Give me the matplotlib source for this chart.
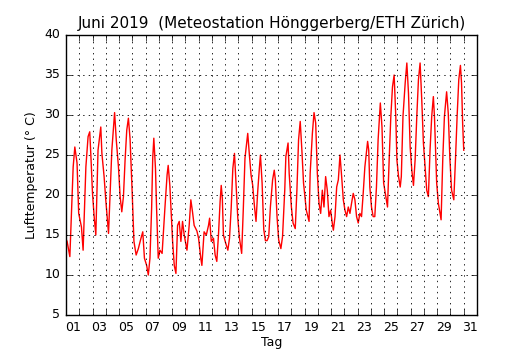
import matplotlib
matplotlib.use("Agg")
import matplotlib.pyplot as plt
from matplotlib.ticker import FixedLocator, FixedFormatter, NullFormatter

# Stunden seit 1. Juni 00:00 und Temperatur (Grad C)
hours = [0, 2, 7, 13, 16, 20, 23, 28, 31, 36, 40, 43, 45, 48, 51, 54, 58, 63, 65, 69,
         72, 77, 83, 88, 91, 95, 98, 101, 104, 107, 110, 113, 116, 120, 123, 127, 131, 135, 139, 142,
         146, 149, 152, 155, 157, 159, 162, 164, 167, 170, 174, 179, 183, 185, 188, 193, 196, 199, 202, 205,
         208, 211, 214, 219, 223, 226, 229, 232, 237, 240, 244, 246, 250, 254, 258, 260, 263, 267, 270, 273,
         276, 279, 281, 283, 285, 289, 293, 296, 299, 302, 305, 308, 311, 314, 318, 321, 324, 329, 332, 335,
         338, 341, 344, 347, 350, 352, 355, 358, 361, 364, 367, 370, 374, 377, 379, 382, 385, 389, 392, 396,
         398, 402, 404, 408, 411, 415, 418, 421, 424, 427, 430, 435, 440, 442, 446, 449, 452, 455, 458, 461,
         464, 467, 470, 473, 476, 479, 482, 484, 487, 490, 493, 496, 499, 502, 505, 508, 511, 514, 517, 520,
         523, 526, 529, 532, 535, 538, 541, 546, 548, 550, 553, 556, 559, 562, 565, 569, 572, 575, 578, 582,
         585, 588, 591, 594, 597, 599, 602, 605, 607, 610, 614, 617, 620, 623, 626, 629, 632, 635, 638, 641,
         644, 647, 650, 653, 656, 659, 662, 665, 667, 669, 671, 674, 679, 682, 685, 689, 692, 695, 698, 702,
         705, 708, 711, 714, 716, 718, 720]
temp = [14.5, 14.2, 12.3, 23.5, 26.0, 24.0, 17.7, 16.0, 13.1, 23.5, 27.3, 27.9, 25.0, 20.2, 17.3, 15.0, 25.6, 28.5, 25.2, 22.3,
        19.4, 15.2, 25.6, 30.3, 26.9, 23.5, 19.8, 17.9, 19.8, 24.4, 28.1, 29.6, 27.0, 20.0, 14.2, 12.5, 13.3, 14.4, 15.4, 12.1,
        11.2, 10.0, 12.1, 18.3, 24.6, 27.1, 23.3, 18.3, 12.1, 13.1, 12.7, 18.3, 22.5, 23.7, 21.2, 14.2, 11.2, 10.2, 16.2, 16.7,
        14.2, 16.7, 15.0, 13.1, 16.2, 19.4, 17.9, 16.2, 15.5, 14.6, 12.1, 11.2, 15.4, 15.0, 16.2, 17.1, 14.2, 14.6, 12.5, 11.7,
        15.0, 19.2, 21.2, 19.6, 15.0, 14.0, 13.1, 14.6, 18.3, 23.3, 25.2, 21.2, 17.1, 14.6, 12.7, 18.3, 24.6, 27.7, 25.0, 22.5,
        21.2, 18.7, 16.7, 20.4, 23.3, 25.0, 21.5, 15.7, 14.3, 14.3, 14.8, 18.5, 21.9, 23.1, 21.9, 17.3, 14.4, 13.3, 14.8, 20.6,
        24.8, 26.5, 22.7, 18.5, 16.5, 15.8, 20.6, 26.9, 29.2, 25.6, 21.5, 18.1, 16.7, 22.7, 27.7, 30.3, 29.0, 22.7, 19.0, 17.7,
        20.6, 18.5, 22.3, 20.6, 17.3, 18.1, 16.5, 15.6, 17.3, 21.0, 21.9, 25.0, 22.3, 19.4, 18.1, 17.3, 18.5, 17.7, 19.0, 20.2,
        19.4, 17.3, 16.5, 17.7, 17.3, 20.2, 23.5, 26.7, 25.6, 21.0, 18.5, 17.3, 17.3, 21.0, 26.9, 31.5, 28.5, 21.5, 20.2, 18.5,
        24.4, 29.8, 33.5, 35.0, 29.8, 24.4, 22.3, 21.0, 22.3, 29.8, 34.0, 36.5, 32.7, 26.0, 23.1, 21.2, 24.4, 29.8, 34.4, 36.5,
        31.9, 26.5, 23.5, 20.6, 19.8, 25.6, 29.8, 32.3, 29.8, 25.6, 21.5, 19.0, 16.9, 24.4, 29.8, 32.9, 30.2, 24.4, 20.6, 19.4,
        24.4, 29.8, 34.4, 36.2, 34.0, 29.0, 25.6]

day_labels = ["%02d" % d for d in range(1, 32, 2)]
title = "Juni 2019  (Meteostation Hönggerberg/ETH Zürich)"

plt.style.use("classic")
plt.rcParams["font.family"] = "DejaVu Sans"

fig = plt.figure(figsize=(5.3, 3.5), dpi=100, facecolor="white")
ax = fig.add_axes([0.1245, 0.1, 0.7755, 0.8])

days = [h / 24.0 for h in hours]
ax.plot(days, temp, color="red", linewidth=1.0)

ax.set_xlim(0, 31)
ax.set_ylim(5, 40)
ax.set_yticks(range(5, 41, 5))

# Tagesgrenzen als Haupt-Ticks (ohne Beschriftung), Tagesmitte beschriftet
ax.xaxis.set_major_locator(FixedLocator(range(0, 32)))
ax.xaxis.set_major_formatter(NullFormatter())
ax.xaxis.set_minor_locator(FixedLocator([d + 0.5 for d in range(0, 31, 2)]))
ax.xaxis.set_minor_formatter(FixedFormatter(day_labels))
ax.tick_params(axis="x", which="minor", length=0, labelsize=9, pad=4)
ax.tick_params(axis="both", which="major", labelsize=9, direction="in", length=4)

ax.grid(True, which="major", linestyle=":", color="black", linewidth=0.6)

ax.set_title(title, fontsize=11)
ax.set_xlabel("Tag", fontsize=9, labelpad=2)
ax.set_ylabel("Lufttemperatur (° C)", fontsize=9)

fig.savefig("out.png", dpi=100, facecolor="white")
